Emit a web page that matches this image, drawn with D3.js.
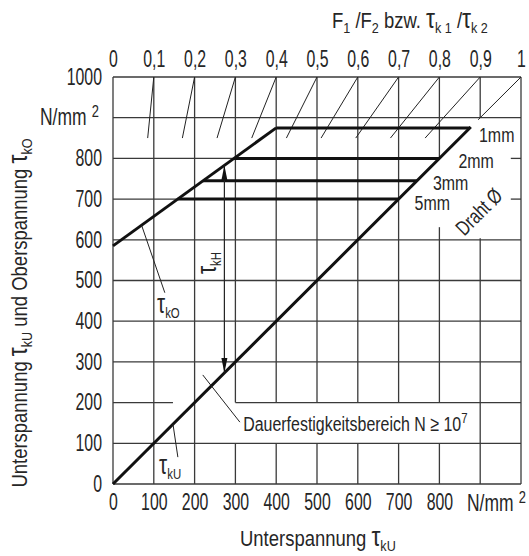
<!DOCTYPE html>
<html><head><meta charset="utf-8">
<script src="https://cdn.jsdelivr.net/npm/d3@7"></script>
<style>
html,body{margin:0;padding:0;background:#fff;}
svg text{font-family:"Liberation Sans",Arial,sans-serif;fill:#262626;}
</style></head><body>
<svg id="chart" width="529" height="556"></svg>
<script>
// ---------- data ----------
const xTicks = [0,100,200,300,400,500,600,700,800];
const yTicks = [0,100,200,300,400,500,600,700,800,1000];
const gridValues = [0,100,200,300,400,500,600,700,800,900,1000];
const ratioTicks = [0,0.1,0.2,0.3,0.4,0.5,0.6,0.7,0.8,0.9,1];
const ratioLabels = ["0","0,1","0,2","0,3","0,4","0,5","0,6","0,7","0,8","0,9","1"];
const rayEndStress = [850,850,850,850,850,850,850,850,850,895];   // for ratios 0.1 … 1
const upperLimit = [[0,585],[400,875]];     // τkO line
const lowerLimit = [[0,0],[877,877]];       // τkU line
const wireLabels = ["1mm","2mm","3mm","5mm"];
const wireStress = [875,800,745,700];
const amplitudeAt = 273;                    // τkH arrow position

// ---------- layout ----------
const x = d3.scaleLinear().domain([0,1000]).range([113,521]);
const y = d3.scaleLinear().domain([0,1000]).range([484,77]);
const xr = d3.scaleLinear().domain([0,1]).range([113,521]);
const svg = d3.select("#chart");
const gridColor = "#3a3a3a";
const FS = 21, SUB = 15, SX = 0.76;      // labels
const TFS = 23, TSX = 0.69;               // tick labels
const HFS = 22, HSX = 0.84;               // axis titles

// grid gaps (white-outs behind labels)
const hGaps = {200:[[147,300]], 700:[[700,975]], 800:[[800,975]]};
const vGaps = {300:[[100,200]],400:[[100,200]],500:[[100,200]],600:[[100,200]],700:[[100,200]],
               800:[[100,200],[631,800]], 900:[[604,900]]};
function segs(gaps){
  let s=[[0,1000]];
  (gaps||[]).forEach(([a,b])=>{
    const n=[]; s.forEach(([p,q])=>{ if(b<=p||a>=q){n.push([p,q]);} else { if(a>p)n.push([p,a]); if(b<q)n.push([b,q]); } });
    s=n;
  });
  return s;
}
const grid = svg.append("g").attr("stroke",gridColor).attr("stroke-width",1.3);
gridValues.forEach(v=>{
  segs(hGaps[v]).forEach(([a,b])=>grid.append("line").attr("x1",x(a)).attr("x2",x(b)).attr("y1",y(v)).attr("y2",y(v)));
  segs(vGaps[v]).forEach(([a,b])=>grid.append("line").attr("x1",x(v)).attr("x2",x(v)).attr("y1",y(a)).attr("y2",y(b)));
});

// ratio rays towards the origin
ratioTicks.slice(1).forEach((r,i)=>{
  const xs = r*1000, ye = rayEndStress[i];
  svg.append("line").attr("x1",x(xs)).attr("y1",y(1000)).attr("x2",x(xs*ye/1000)).attr("y2",y(ye))
    .attr("stroke","#222").attr("stroke-width",1);
});

// axes
function styleAxis(g){
  g.select(".domain").remove();
  g.attr("font-family",null).attr("font-size",TFS);
  g.selectAll("text").attr("fill","#262626").attr("transform",`scale(${TSX},1)`);
}
svg.append("g").attr("transform",`translate(0,${y(0)})`)
  .call(d3.axisBottom(x).tickValues(xTicks).tickFormat(d3.format("d")).tickSize(0).tickPadding(10)).call(styleAxis);
const gy = svg.append("g").attr("transform",`translate(${x(0)},0)`)
  .call(d3.axisLeft(y).tickValues(yTicks).tickFormat(d3.format("d")).tickSize(0).tickPadding(11)).call(styleAxis);
gy.selectAll("text").attr("x",-11/TSX);
svg.append("g").attr("transform",`translate(0,${y(1000)})`)
  .call(d3.axisTop(xr).tickValues(ratioTicks).tickFormat((d,i)=>ratioLabels[i]).tickSize(0).tickPadding(10)).call(styleAxis);

// text helper: translated, optionally rotated, horizontally condensed
function txt(xp,yp,o){
  o=o||{};
  return svg.append("text")
    .attr("transform",`translate(${xp},${yp})${o.rot?` rotate(${o.rot})`:""} scale(${o.sx||SX},1)`)
    .attr("text-anchor",o.anchor||"start").attr("font-size",o.fs||FS);
}
// parts = [[text,kind]] kind: 0 normal, 1 subscript, 2 large tau
function rich(sel, parts){
  let sub=false;
  parts.forEach(([t,s])=>{
    const ts = sel.append("tspan").text(t);
    if(s===1){ ts.attr("font-size",SUB); if(!sub){ ts.attr("dy",5); sub=true; } }
    else { if(sub){ ts.attr("dy",-5); sub=false; } if(s===2) ts.attr("font-size",27); }
  });
  return sel;
}
function unit(xp,yp){
  const t=txt(xp,yp,{fs:TFS,sx:0.76}).text("N/mm");
  t.append("tspan").attr("dx",7).attr("dy",-8).attr("font-size",17).text("2");
}
unit(40,125);
unit(467,511);

// titles
rich(txt(332,28,{fs:HFS,sx:HSX}), [["F",0],["1",1],[" /F",0],["2",1],[" bzw.  ",0],["τ",2],["k 1",1],[" /",0],["τ",2],["k 2",1]]);
rich(txt(240,546,{fs:HFS,sx:HSX}), [["Unterspannung   ",0],["τ",2],["kU",1]]);
rich(txt(27,313,{rot:-90,anchor:"middle",fs:HFS,sx:HSX}),
  [["Unterspannung  ",0],["τ",2],["kU",1],["  und  Oberspannung  ",0],["τ",2],["kO",1]]);

// thick limit lines
const line = d3.line().x(d=>x(d[0])).y(d=>y(d[1]));
svg.append("path").attr("d",line(upperLimit)).attr("fill","none").attr("stroke","#111").attr("stroke-width",3);
svg.append("path").attr("d",line(lowerLimit)).attr("fill","none").attr("stroke","#111").attr("stroke-width",3);
const slope = (upperLimit[1][1]-upperLimit[0][1])/(upperLimit[1][0]-upperLimit[0][0]);
const wireLabelOffset = [[9,14],[19,10],[16,9],[16,11]];
wireStress.forEach((s,i)=>{
  const xs = (s-upperLimit[0][1])/slope;
  svg.append("line").attr("x1",x(xs)).attr("x2",x(s)).attr("y1",y(s)).attr("y2",y(s))
    .attr("stroke","#111").attr("stroke-width",3);
  txt(x(s)+wireLabelOffset[i][0], y(s)+wireLabelOffset[i][1]).text(wireLabels[i]);
});
txt(484,217,{rot:-45,anchor:"middle"}).text("Draht Ø");

// τkH arrow
const topY = y(upperLimit[0][1]+slope*amplitudeAt), botY = y(amplitudeAt), ax = x(amplitudeAt);
svg.append("line").attr("x1",ax).attr("x2",ax).attr("y1",topY).attr("y2",botY).attr("stroke","#222").attr("stroke-width",1.2);
svg.append("path").attr("d",`M${ax},${topY}L${ax-3},${topY+15}L${ax+3},${topY+15}Z`).attr("fill","#111");
svg.append("path").attr("d",`M${ax},${botY}L${ax-3},${botY-15}L${ax+3},${botY-15}Z`).attr("fill","#111");
rich(txt(216,263,{rot:-90,anchor:"middle"}), [["τ",2],["kH",1]]);

// leader lines + labels
const leaders = [
  {from:[70,636], to:[127,470]},
  {from:[147,147], to:[159,66]},
  {from:[220,268], to:[311,152]}
];
leaders.forEach(l=>svg.append("line").attr("x1",x(l.from[0])).attr("y1",y(l.from[1]))
  .attr("x2",x(l.to[0])).attr("y2",y(l.to[1])).attr("stroke","#222").attr("stroke-width",1));
rich(txt(x(108),y(420)), [["τ",2],["kO",1]]);
rich(txt(x(113),y(25)), [["τ",2],["kU",1]]);
const dt = txt(x(319),y(130)).text("Dauerfestigkeitsbereich  N ≥ 10");
dt.append("tspan").attr("dy",-8).attr("font-size",15).text("7");
</script>
</body></html>
